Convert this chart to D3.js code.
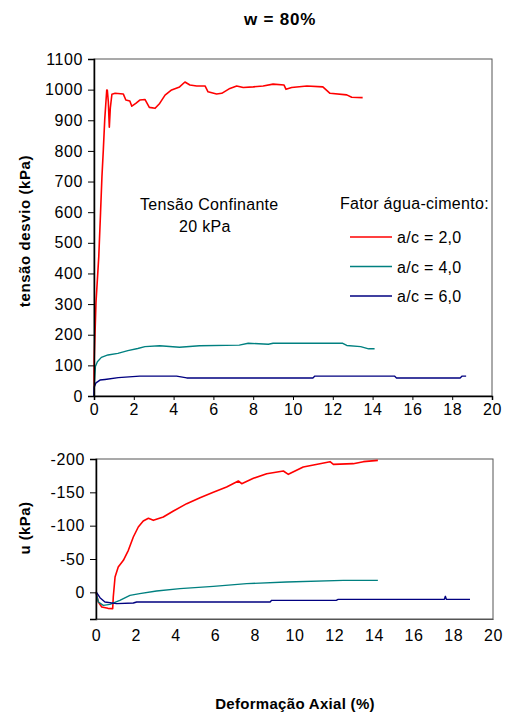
<!DOCTYPE html>
<html>
<head>
<meta charset="utf-8">
<script src="https://cdn.jsdelivr.net/npm/d3@7"></script>
<style>
  body { margin: 0; background: #fff; }
  svg text { font-family: "Liberation Sans", Arial, sans-serif; fill: #000; }
</style>
</head>
<body>
<svg id="chart" width="505" height="718"></svg>
<script>
// deviator stress vs axial strain, [strain %, kPa]
const tensaoAc2 = [[0,0],[0.01,120],[0.1,305],[0.24,455],[0.33,600],[0.4,717],[0.47,805],[0.54,903],
  [0.64,999],[0.67,998],[0.72,960],[0.77,877],[0.82,940],[0.9,985],[1.06,988],[1.47,986],[1.6,966],
  [1.8,963],[1.9,946],[2.1,955],[2.3,966],[2.56,968],[2.78,942],[3.07,939],[3.3,955],[3.57,982],
  [3.9,999],[4.3,1009],[4.57,1025],[4.82,1015],[5.16,1012],[5.58,1012],[5.73,993],[6.16,986],
  [6.42,988],[6.83,1004],[7.17,1012],[7.5,1007],[8.0,1009],[8.5,1012],[9.0,1018],[9.55,1015],
  [9.65,1001],[9.93,1007],[10.7,1012],[11.5,1009],[11.86,988],[12.7,983],[12.95,975],[13.5,974]];
const tensaoAc4 = [[0,0],[0.02,42],[0.07,96],[0.17,112],[0.37,126],[0.7,134],[1.2,139],[1.7,148],
  [2.2,155],[2.56,161],[3.3,164],[4.3,159],[5.3,164],[7.3,166],[7.75,172],[8.76,169],[9.0,172],
  [12.5,172],[12.7,165],[13.4,161],[13.8,154],[14.1,154]];
const tensaoAc6 = [[0,0],[0.01,29],[0.1,43],[0.3,52],[0.55,54],[1.22,60],[2.3,65],[4.15,65],
  [4.66,59],[11.0,59],[11.1,65],[15.1,65],[15.2,59],[18.4,59],[18.5,65],[18.7,65]];

// pore pressure vs axial strain, [strain %, kPa]
const poroAc2 = [[0,0],[0.12,14.5],[0.29,22],[0.6,24],[0.84,24.5],[0.87,7],[0.96,-23],[1.12,-38],
  [1.38,-48],[1.63,-63],[1.88,-83],[2.13,-98],[2.38,-107],[2.64,-111],[2.89,-108],[3.39,-113],
  [3.9,-122],[4.57,-133],[5.24,-142],[5.91,-150],[6.58,-158],[7.17,-167],[7.34,-163],[7.93,-171],
  [8.6,-178],[9.44,-182],[9.69,-177],[10.44,-188],[11.28,-193],[11.79,-196],[11.96,-192],
  [12.96,-193],[13.47,-196],[14.2,-198]];
const poroAc4 = [[0,1],[0.12,14.5],[0.37,19.5],[0.7,18],[1.2,12],[1.71,4.5],[2.2,2],[3.05,-2],
  [4.23,-5.5],[5.91,-9],[7.59,-13],[9.6,-15.5],[12.46,-18],[14.2,-18]];
const poroAc6 = [[0,-1],[0.2,8],[0.45,14.5],[1.04,17],[1.88,16],[2.05,14.5],[8.77,14.5],[8.85,12],
  [12.1,12],[12.2,10.5],[17.55,10.5],[17.6,6],[17.65,10.5],[18.84,10.5]];

const series = [
  {label: "a/c = 2,0", color: "#ff0000", tensao: tensaoAc2, poro: poroAc2},
  {label: "a/c = 4,0", color: "#008080", tensao: tensaoAc4, poro: poroAc4},
  {label: "a/c = 6,0", color: "#000080", tensao: tensaoAc6, poro: poroAc6}
];

const xTicks = [0, 2, 4, 6, 8, 10, 12, 14, 16, 18, 20];
const yTicksTop = [0, 100, 200, 300, 400, 500, 600, 700, 800, 900, 1000, 1100];
const yTicksBottom = [-200, -150, -100, -50, 0];

const svg = d3.select("#chart");
// plain hyphen for negatives, like the original
const fmt = d => String(d);

// Draw one panel: box, axes and curves
function drawPanel(box, yDomain, yTicks, key, xTickSize) {
    const x = d3.scaleLinear().domain([0, 20]).range([box.left, box.right]);
    const y = d3.scaleLinear().domain(yDomain).range([box.bottom, box.top]);
    const g = svg.append("g");

    g.append("rect")
        .attr("x", box.left).attr("y", box.top)
        .attr("width", box.right - box.left).attr("height", box.bottom - box.top)
        .attr("fill", "none").attr("stroke", "#555").attr("stroke-width", 1);

    const line = d3.line().x(d => x(d[0])).y(d => y(d[1]));
    series.forEach(s => {
        g.append("path")
            .datum(s[key])
            .attr("fill", "none")
            .attr("stroke", s.color)
            .attr("stroke-width", s.color === "#ff0000" ? 1.6 : 1.4)
            .attr("stroke-linejoin", "round")
            .attr("d", line);
    });

    const yAxis = g.append("g")
        .attr("transform", `translate(${box.left},0)`)
        .call(d3.axisLeft(y).tickValues(yTicks).tickSize(6).tickPadding(5).tickFormat(fmt));
    yAxis.select(".domain").attr("stroke", "#000").attr("stroke-width", 1.5);
    yAxis.selectAll(".tick line").attr("stroke", "#000");
    yAxis.selectAll("text").attr("font-size", 16).attr("letter-spacing", 0.6).attr("fill", "#000");

    const xAxis = g.append("g")
        .attr("transform", `translate(0,${box.bottom})`)
        .call(d3.axisBottom(x).tickValues(xTicks).tickSize(xTickSize).tickPadding(box.xPad).tickFormat(fmt));
    xAxis.select(".domain").attr("stroke", xTickSize ? "#000" : "#555").attr("stroke-width", xTickSize ? 1.5 : 1);
    xAxis.selectAll(".tick line").attr("stroke", "#000");
    xAxis.selectAll("text").attr("font-size", 16).attr("letter-spacing", 0.6).attr("fill", "#000");

    return {x, y, g};
}

const upperPanel = drawPanel({left: 94, right: 492, top: 59, bottom: 396, xPad: 4}, [0, 1100], yTicksTop, "tensao", 4);
const lowerPanel = drawPanel({left: 96, right: 493, top: 459, bottom: 619, xPad: 11}, [40, -200], yTicksBottom, "poro", 0);

// title and axis titles
svg.append("text").attr("x", 280).attr("y", 25).attr("text-anchor", "middle")
    .attr("font-size", 17).attr("font-weight", "bold").attr("letter-spacing", 0.8).text("w = 80%");
svg.append("text").attr("transform", "translate(30,231) rotate(-90)").attr("text-anchor", "middle")
    .attr("font-size", 15).attr("font-weight", "bold").attr("letter-spacing", 0.6).text("tensão desvio (kPa)");
svg.append("text").attr("transform", "translate(30,528) rotate(-90)").attr("text-anchor", "middle")
    .attr("font-size", 15).attr("font-weight", "bold").attr("letter-spacing", 0.4).text("u (kPa)");
svg.append("text").attr("x", 295).attr("y", 709).attr("text-anchor", "middle")
    .attr("font-size", 15).attr("font-weight", "bold").attr("letter-spacing", 0.3).text("Deformação Axial (%)");

// annotation
svg.append("text").attr("x", 140).attr("y", 210).attr("font-size", 16).attr("letter-spacing", 0.3).text("Tensão Confinante");
svg.append("text").attr("x", 179).attr("y", 232).attr("font-size", 16).attr("letter-spacing", 0.3).text("20 kPa");

// legend, clipped at the plot border like the original
svg.append("clipPath").attr("id", "legclip")
    .append("rect").attr("x", 300).attr("y", 180).attr("width", 189).attr("height", 140);
const leg = svg.append("g").attr("clip-path", "url(#legclip)");
leg.append("text").attr("x", 340).attr("y", 209).attr("font-size", 16).attr("letter-spacing", 0.3).text("Fator água-cimento:");
series.forEach((s, i) => {
    const yy = 237 + i * 29.5;
    leg.append("line").attr("x1", 350).attr("x2", 392).attr("y1", yy).attr("y2", yy)
        .attr("stroke", s.color).attr("stroke-width", 1.4);
    leg.append("text").attr("x", 397).attr("y", yy + 6).attr("font-size", 16).attr("letter-spacing", 0.3).text(s.label);
});
</script>
</body>
</html>
